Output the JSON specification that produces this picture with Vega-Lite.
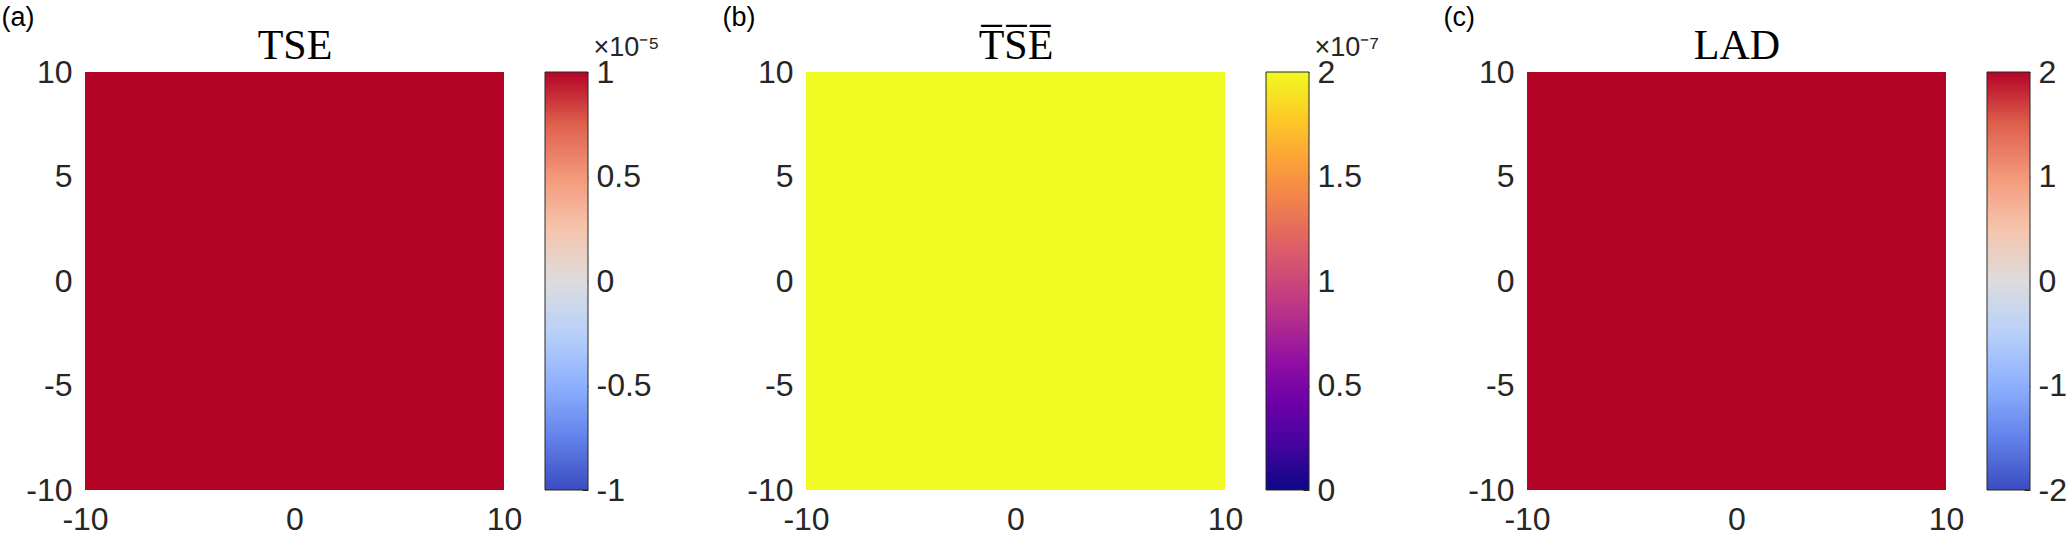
{
  "$schema": "https://vega.github.io/schema/vega-lite/v6.json",
  "background": "white",
  "padding": {"left": 1, "top": 3, "right": 0, "bottom": 0},
  "autosize": {"type": "pad"},
  "config": {
    "view": {"stroke": null},
    "font": "Liberation Sans",
    "axis": {"labelFont": "Liberation Sans", "labelFontSize": 32, "labelColor": "#262626", "domain": false, "ticks": false, "grid": false, "labelFlush": false, "labelOverlap": false, "titleFontWeight": "normal"}
  },
  "datasets": {
    "tse": [{"x0": -10, "x1": 10, "y0": -10, "y1": 10, "va": 1e-5}],
    "tsebar": [{"x0": -10, "x1": 10, "y0": -10, "y1": 10, "vb": 2e-7}],
    "lad": [{"x0": -10, "x1": 10, "y0": -10, "y1": 10, "vc": 2}],
    "cba": [{"k": "bar", "lo": -1e-5, "hi": 1e-5}],
    "cbb": [{"k": "bar", "lo": 0, "hi": 2e-7}],
    "cbc": [{"k": "bar", "lo": -2, "hi": 2}]
  },
  "hconcat": [
    {
      "data": {"name": "tse"},
      "width": 419, "height": 418,
      "mark": "rect",
      "encoding": {
        "x": {"field": "x0", "type": "quantitative", "scale": {"domain": [-10, 10], "nice": false}, "axis": {"values": [-10, 0, 10], "title": "TSE", "titleX": 209.5, "titleY": -432, "titleAlign": "center", "titleBaseline": "alphabetic", "titleFont": "Liberation Serif", "titleFontSize": 42, "titleColor": "#000000", "labelPadding": 14, "labelExpr": "'' + datum.value"}},
        "x2": {"field": "x1"},
        "y": {"field": "y0", "type": "quantitative", "scale": {"domain": [-10, 10], "nice": false}, "axis": {"values": [-10, -5, 0, 5, 10], "title": "(a)", "titleAngle": 0, "titleX": -84, "titleY": -68, "titleAlign": "left", "titleBaseline": "top", "titleFont": "Liberation Sans", "titleFontSize": 27, "titleColor": "#000000", "labelPadding": 13, "labelExpr": "'' + datum.value"}},
        "y2": {"field": "y1"},
        "color": {"field": "va", "type": "quantitative", "scale": {"domain": [-1e-5, 1e-5], "range": ["#3b4cc0", "#6282ea", "#8db0fe", "#b8d0f9", "#dddcdc", "#f5c4ac", "#f4987a", "#de604d", "#b40426"]}, "legend": null}
      }
    },
    {
      "data": {"name": "cba"},
      "width": 220, "height": 418,
      "mark": {"type": "bar", "stroke": "#262626", "strokeWidth": 1, "fill": {"gradient": "linear", "x1": 0, "y1": 1, "x2": 0, "y2": 0, "stops": [
        {"offset": 0, "color": "#3b4cc0"}, {"offset": 0.125, "color": "#6282ea"}, {"offset": 0.25, "color": "#8db0fe"}, {"offset": 0.375, "color": "#b8d0f9"}, {"offset": 0.5, "color": "#dddcdc"}, {"offset": 0.625, "color": "#f5c4ac"}, {"offset": 0.75, "color": "#f4987a"}, {"offset": 0.875, "color": "#de604d"}, {"offset": 1, "color": "#b40426"}]}},
      "encoding": {
        "x": {"field": "k", "type": "nominal", "axis": null, "scale": {"paddingInner": 0.514124, "paddingOuter": 1, "align": 0}},
        "y": {"field": "lo", "type": "quantitative", "scale": {"domain": [-1e-5, 1e-5], "nice": false}, "axis": {"orient": "right", "offset": -177, "values": [-1e-5, -5e-6, 0, 5e-6, 1e-5], "title": "×10⁻⁵", "titleAngle": 0, "titleX": 5, "titleY": -17, "titleAlign": "left", "titleBaseline": "alphabetic", "titleFont": "Liberation Sans", "titleFontSize": 27, "titleColor": "#262626", "ticks": true, "tickSize": -6, "tickColor": "#262626", "labelPadding": 14, "labelExpr": "'' + round(datum.value*1e6)/10"}},
        "y2": {"field": "hi"}
      }
    },
    {
      "data": {"name": "tsebar"},
      "width": 419, "height": 418,
      "mark": "rect",
      "encoding": {
        "x": {"field": "x0", "type": "quantitative", "scale": {"domain": [-10, 10], "nice": false}, "axis": {"values": [-10, 0, 10], "title": "T̅S̅E̅", "titleX": 209.5, "titleY": -432, "titleAlign": "center", "titleBaseline": "alphabetic", "titleFont": "Liberation Serif", "titleFontSize": 42, "titleColor": "#000000", "labelPadding": 14, "labelExpr": "'' + datum.value"}},
        "x2": {"field": "x1"},
        "y": {"field": "y0", "type": "quantitative", "scale": {"domain": [-10, 10], "nice": false}, "axis": {"values": [-10, -5, 0, 5, 10], "title": "(b)", "titleAngle": 0, "titleX": -84, "titleY": -68, "titleAlign": "left", "titleBaseline": "top", "titleFont": "Liberation Sans", "titleFontSize": 27, "titleColor": "#000000", "labelPadding": 13, "labelExpr": "'' + datum.value"}},
        "y2": {"field": "y1"},
        "color": {"field": "vb", "type": "quantitative", "scale": {"domain": [0, 2e-7], "scheme": "plasma"}, "legend": null}
      }
    },
    {
      "data": {"name": "cbb"},
      "width": 220, "height": 418,
      "mark": {"type": "bar", "stroke": "#262626", "strokeWidth": 1, "fill": {"gradient": "linear", "x1": 0, "y1": 1, "x2": 0, "y2": 0, "stops": [
        {"offset": 0, "color": "#0d0887"}, {"offset": 0.1, "color": "#41049d"}, {"offset": 0.2, "color": "#6a00a8"}, {"offset": 0.3, "color": "#8f0da4"}, {"offset": 0.4, "color": "#b12a90"}, {"offset": 0.5, "color": "#cc4778"}, {"offset": 0.6, "color": "#e16462"}, {"offset": 0.7, "color": "#f2844b"}, {"offset": 0.8, "color": "#fca636"}, {"offset": 0.9, "color": "#fcce25"}, {"offset": 1, "color": "#f0f921"}]}},
      "encoding": {
        "x": {"field": "k", "type": "nominal", "axis": null, "scale": {"paddingInner": 0.514124, "paddingOuter": 1, "align": 0}},
        "y": {"field": "lo", "type": "quantitative", "scale": {"domain": [0, 2e-7], "nice": false}, "axis": {"orient": "right", "offset": -177, "values": [0, 5e-8, 1e-7, 1.5e-7, 2e-7], "title": "×10⁻⁷", "titleAngle": 0, "titleX": 5, "titleY": -17, "titleAlign": "left", "titleBaseline": "alphabetic", "titleFont": "Liberation Sans", "titleFontSize": 27, "titleColor": "#262626", "ticks": true, "tickSize": -6, "tickColor": "#262626", "labelPadding": 14, "labelExpr": "'' + round(datum.value*1e8)/10"}},
        "y2": {"field": "hi"}
      }
    },
    {
      "data": {"name": "lad"},
      "width": 419, "height": 418,
      "mark": "rect",
      "encoding": {
        "x": {"field": "x0", "type": "quantitative", "scale": {"domain": [-10, 10], "nice": false}, "axis": {"values": [-10, 0, 10], "title": "LAD", "titleX": 209.5, "titleY": -432, "titleAlign": "center", "titleBaseline": "alphabetic", "titleFont": "Liberation Serif", "titleFontSize": 42, "titleColor": "#000000", "labelPadding": 14, "labelExpr": "'' + datum.value"}},
        "x2": {"field": "x1"},
        "y": {"field": "y0", "type": "quantitative", "scale": {"domain": [-10, 10], "nice": false}, "axis": {"values": [-10, -5, 0, 5, 10], "title": "(c)", "titleAngle": 0, "titleX": -84, "titleY": -68, "titleAlign": "left", "titleBaseline": "top", "titleFont": "Liberation Sans", "titleFontSize": 27, "titleColor": "#000000", "labelPadding": 13, "labelExpr": "'' + datum.value"}},
        "y2": {"field": "y1"},
        "color": {"field": "vc", "type": "quantitative", "scale": {"domain": [-2, 2], "range": ["#3b4cc0", "#6282ea", "#8db0fe", "#b8d0f9", "#dddcdc", "#f5c4ac", "#f4987a", "#de604d", "#b40426"]}, "legend": null}
      }
    },
    {
      "data": {"name": "cbc"},
      "width": 43, "height": 418,
      "mark": {"type": "bar", "stroke": "#262626", "strokeWidth": 1, "fill": {"gradient": "linear", "x1": 0, "y1": 1, "x2": 0, "y2": 0, "stops": [
        {"offset": 0, "color": "#3b4cc0"}, {"offset": 0.125, "color": "#6282ea"}, {"offset": 0.25, "color": "#8db0fe"}, {"offset": 0.375, "color": "#b8d0f9"}, {"offset": 0.5, "color": "#dddcdc"}, {"offset": 0.625, "color": "#f5c4ac"}, {"offset": 0.75, "color": "#f4987a"}, {"offset": 0.875, "color": "#de604d"}, {"offset": 1, "color": "#b40426"}]}},
      "encoding": {
        "x": {"field": "k", "type": "nominal", "axis": null, "scale": {"paddingInner": 0, "paddingOuter": 0}},
        "y": {"field": "lo", "type": "quantitative", "scale": {"domain": [-2, 2], "nice": false}, "axis": {"orient": "right", "values": [-2, -1, 0, 1, 2], "title": null, "ticks": true, "tickSize": -6, "tickColor": "#262626", "labelPadding": 14, "labelExpr": "'' + datum.value"}},
        "y2": {"field": "hi"}
      }
    }
  ],
  "spacing": 41,
  "bounds": "flush",
  "resolve": {"scale": {"x": "independent", "y": "independent", "color": "independent"}}
}
